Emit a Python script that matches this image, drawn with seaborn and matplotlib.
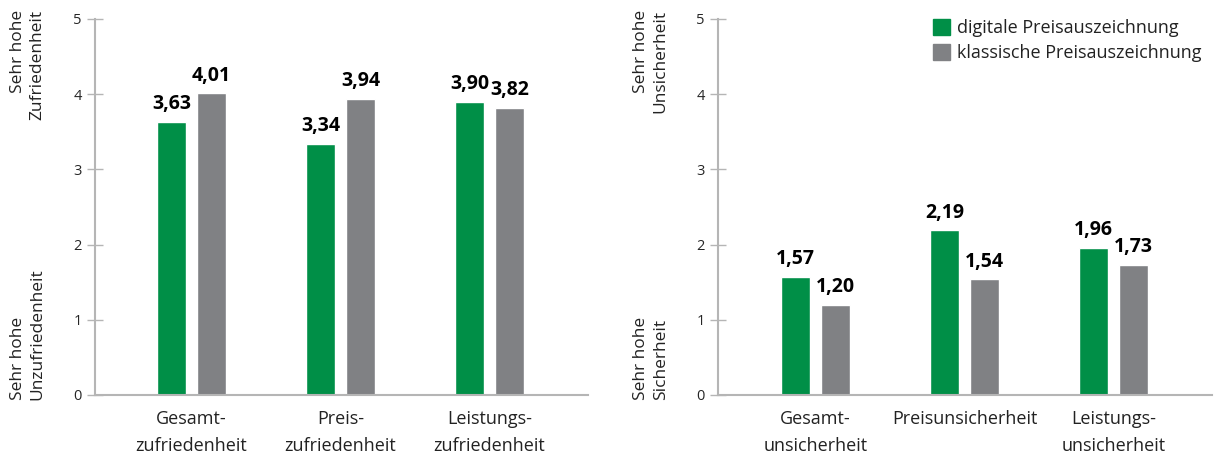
import numpy as np
import pandas as pd
import matplotlib
matplotlib.use('Agg')
import matplotlib.pyplot as plt
import seaborn as sns
from matplotlib.patches import Patch

# data
series = ['digitale Preisauszeichnung', 'klassische Preisauszeichnung']
cats_left = ['Gesamt-\nzufriedenheit', 'Preis-\nzufriedenheit', 'Leistungs-\nzufriedenheit']
digital_left = [3.63, 3.34, 3.90]
klassisch_left = [4.01, 3.94, 3.82]
cats_right = ['Gesamt-\nunsicherheit', 'Preisunsicherheit', 'Leistungs-\nunsicherheit']
digital_right = [1.57, 2.19, 1.96]
klassisch_right = [1.20, 1.54, 1.73]
yticks = [0, 1, 2, 3, 4, 5]

green = '#008f47'
grey = '#808184'
axis_col = '#b5b5b5'

sns.set_theme(style='white')
plt.rcParams['font.family'] = ['Open Sans', 'DejaVu Sans']


def make_df(cats, dig, kla):
    return pd.DataFrame({
        'cat': cats * 2,
        'val': dig + kla,
        'serie': [series[0]] * len(cats) + [series[1]] * len(cats),
    })


fig = plt.figure(figsize=(12.19, 4.59), dpi=100)
ax1 = fig.add_axes([95 / 1219, 1 - 395 / 459, 493 / 1219, 376 / 459])
ax2 = fig.add_axes([718 / 1219, 1 - 395 / 459, 494 / 1219, 376 / 459])

panels = [(ax1, make_df(cats_left, digital_left, klassisch_left), -0.648),
          (ax2, make_df(cats_right, digital_right, klassisch_right), -0.654)]

for ax, df, xl in panels:
    sns.barplot(data=df, x='cat', y='val', hue='serie', palette=[green, grey],
                width=0.537, gap=0.27, legend=False, ax=ax, saturation=1)
    for cont in ax.containers:
        labels = [f'{b.get_height():.2f}'.replace('.', ',') for b in cont]
        ax.bar_label(cont, labels=labels, padding=5.5, fontsize=14,
                     fontweight='bold', color='black')
    ax.set_ylim(0, 5)
    ax.set_xlim(xl, 2.661)
    ax.set_yticks(yticks)
    ax.set_xlabel('')
    ax.set_ylabel('')
    for s in ['top', 'right']:
        ax.spines[s].set_visible(False)
    for s in ['left', 'bottom']:
        ax.spines[s].set_color(axis_col)
        ax.spines[s].set_linewidth(1.5)
    ax.tick_params(axis='y', direction='inout', length=11, width=1,
                   color=axis_col, labelsize=10.5, pad=4, left=True)
    ax.tick_params(axis='x', length=0, pad=11, labelsize=13, labelcolor='#222222')
    for t in ax.get_xticklabels():
        t.set_linespacing(1.6)

# side labels
txt = dict(rotation=90, fontsize=12.5, color='#222222', ha='center', linespacing=1.3)
fig.text(28 / 1219, 1 - 10 / 459, 'Sehr hohe\nZufriedenheit', va='top', multialignment='right', **txt)
fig.text(28 / 1219, 1 - 400 / 459, 'Sehr hohe\nUnzufriedenheit', va='bottom', multialignment='left', **txt)
fig.text(651 / 1219, 1 - 10 / 459, 'Sehr hohe\nUnsicherheit', va='top', multialignment='right', **txt)
fig.text(651 / 1219, 1 - 400 / 459, 'Sehr hohe\nSicherheit', va='bottom', multialignment='left', **txt)

handles = [Patch(color=green), Patch(color=grey)]
fig.legend(handles, series, loc='upper left', bbox_to_anchor=(926 / 1219, 1 - 12 / 459),
           frameon=False, fontsize=13, handlelength=0.95, handleheight=0.95,
           handletextpad=0.35, labelspacing=0.4, borderaxespad=0, labelcolor='#222222')

fig.savefig('out.png', dpi=100)
